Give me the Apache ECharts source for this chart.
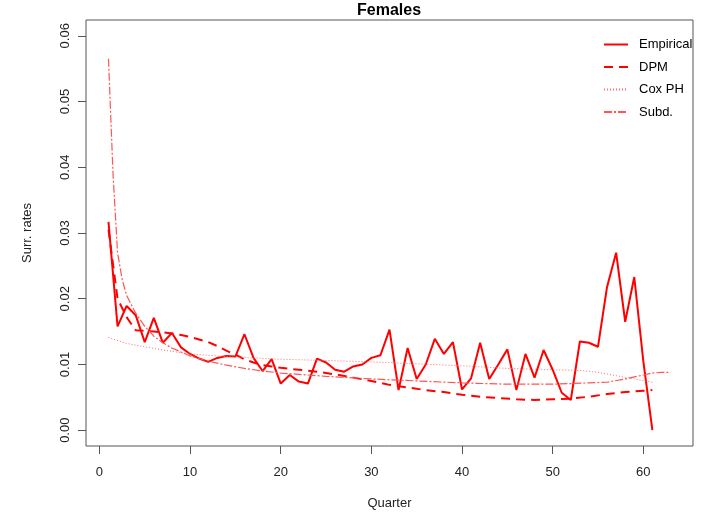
<!DOCTYPE html>
<html>
<head>
<meta charset="utf-8">
<script src="https://cdn.jsdelivr.net/npm/echarts@6/dist/echarts.min.js"></script>
<style>
  html, body { margin: 0; padding: 0; background: #fff; }
  #main { width: 703px; height: 514px; }
</style>
</head>
<body>
<div id="main"></div>
<script>
// quarters 1..61 for the empirical rates
const empQuarter = [];
for (let q = 1; q <= 61; q++) empQuarter.push(q);
const empirical = [
  0.0317, 0.0158, 0.0189, 0.0175, 0.0134, 0.0171, 0.0133, 0.0148, 0.0126, 0.0116,
  0.0109, 0.0104, 0.0110, 0.0113, 0.0112, 0.0146, 0.0110, 0.0090, 0.0108, 0.0071,
  0.0084, 0.0074, 0.0071, 0.0109, 0.0103, 0.0092, 0.0089, 0.0097, 0.0100, 0.0110,
  0.0114, 0.0153, 0.0061, 0.0125, 0.0078, 0.0100, 0.0139, 0.0116, 0.0134, 0.0062,
  0.0079, 0.0133, 0.0078, 0.0100, 0.0123, 0.0061, 0.0116, 0.0080, 0.0122, 0.0092,
  0.0057, 0.0046, 0.0135, 0.0133, 0.0127, 0.0218, 0.0270, 0.0165, 0.0233, 0.0105,
  0.0000
];

const dpmQuarter = [1, 2, 3, 4, 5, 6, 7, 8, 9, 10, 11, 12, 13, 14, 15, 16, 17, 18, 19, 20,
  22, 24, 26, 28, 30, 32, 34, 36, 38, 40, 42, 44, 46, 48, 50, 52, 54, 56, 58, 60, 61];
const dpm = [0.0305, 0.0200, 0.0172, 0.0152, 0.0151, 0.0150, 0.0149, 0.0147, 0.0145, 0.0142,
  0.0138, 0.0134, 0.0128, 0.0121, 0.0115, 0.0108, 0.0103, 0.0099, 0.0097, 0.0095,
  0.0092, 0.0089, 0.0085, 0.0080, 0.0075, 0.0069, 0.0065, 0.0061, 0.0058, 0.0054,
  0.0051, 0.0049, 0.0047, 0.0046, 0.0047, 0.0048, 0.0051, 0.0055, 0.0058, 0.0060, 0.0061];

const coxQuarter = [1, 3, 5, 7, 10, 14, 20, 25, 30, 35, 40, 45, 50, 53, 55, 57, 59, 61];
const coxPH = [0.0141, 0.0132, 0.0127, 0.0122, 0.0116, 0.0112, 0.0108, 0.0106, 0.0104,
  0.0101, 0.0098, 0.0094, 0.0092, 0.0091, 0.0088, 0.0083, 0.0078, 0.0073];

const subdQuarter = [1, 1.5, 2, 2.5, 3, 4, 5, 6, 7, 8, 10, 12, 14, 16, 18, 20, 25, 30, 35,
  40, 45, 50, 54, 56, 58, 60, 61, 62, 63];
const subd = [0.0565, 0.0390, 0.0270, 0.0230, 0.0205, 0.0178, 0.0158, 0.0143, 0.0133,
  0.0125, 0.0113, 0.0105, 0.0099, 0.0094, 0.0090, 0.0087, 0.0082, 0.0078, 0.0075,
  0.0072, 0.0070, 0.0070, 0.0072, 0.0073, 0.0078, 0.0084, 0.0087, 0.0088, 0.0088];

const xTicks = [0, 10, 20, 30, 40, 50, 60];
const yTicks = [0, 0.01, 0.02, 0.03, 0.04, 0.05, 0.06];

function pairs(xs, ys) {
  return xs.map(function (x, i) { return [x, ys[i]]; });
}

var chartDom = document.getElementById('main');
var myChart = echarts.init(chartDom);
var font = 'Liberation Sans, Arial, sans-serif';

var option = {
  animation: false,
  title: {
    text: 'Females',
    left: 357,
    top: 3,
    padding: 0,
    textStyle: { fontFamily: font, fontSize: 16, fontWeight: 'bold', color: '#000' }
  },
  legend: {
    orient: 'vertical',
    left: 603,
    top: 38,
    itemWidth: 24,
    itemHeight: 14,
    itemGap: 9.5,
    padding: 0,
    // hide the marker circle, keep only the line sample
    itemStyle: { color: 'transparent', borderWidth: 0, opacity: 0 },
    textStyle: { fontFamily: font, fontSize: 13, color: '#000', padding: [0, 0, 0, 6] },
    data: ['Empirical', 'DPM', 'Cox PH', 'Subd.']
  },
  grid: {
    left: 86,
    right: 10,
    top: 20,
    bottom: 68,
    show: true,
    borderColor: '#555',
    borderWidth: 1,
    outerBoundsMode: 'none'
  },
  xAxis: {
    type: 'value',
    min: -1.48,
    max: 65.48,
    name: 'Quarter',
    nameLocation: 'middle',
    nameGap: 51,
    nameTextStyle: { fontFamily: font, fontSize: 13, color: '#222' },
    splitLine: { show: false },
    axisLine: { show: false, onZero: false },
    axisTick: { show: true, length: 8, customValues: xTicks, lineStyle: { color: '#555' } },
    axisLabel: { customValues: xTicks, margin: 20, fontFamily: font, fontSize: 13, color: '#222' }
  },
  yAxis: {
    type: 'value',
    min: -0.0024,
    max: 0.0624,
    name: 'Surr. rates',
    nameLocation: 'middle',
    nameGap: 52,
    nameTextStyle: { fontFamily: font, fontSize: 13, color: '#222' },
    splitLine: { show: false },
    axisLine: { show: false, onZero: false },
    axisTick: { show: true, length: 8, customValues: yTicks, lineStyle: { color: '#555' } },
    axisLabel: {
      customValues: yTicks,
      rotate: 90,
      margin: 14,
      fontFamily: font,
      fontSize: 13,
      color: '#222',
      formatter: function (v) { return v.toFixed(2); }
    }
  },
  series: [
    {
      name: 'Empirical',
      type: 'line',
      symbol: 'none',
      data: pairs(empQuarter, empirical),
      itemStyle: { color: '#ff0000' },
      lineStyle: { color: '#ff0000', width: 2 }
    },
    {
      name: 'DPM',
      type: 'line',
      symbol: 'none',
      data: pairs(dpmQuarter, dpm),
      itemStyle: { color: '#ff0000' },
      lineStyle: { color: '#ff0000', width: 2, type: [9, 6] }
    },
    {
      name: 'Cox PH',
      type: 'line',
      symbol: 'none',
      data: pairs(coxQuarter, coxPH),
      itemStyle: { color: '#ff6a6a' },
      lineStyle: { color: '#ff6a6a', width: 1, type: [1, 2] }
    },
    {
      name: 'Subd.',
      type: 'line',
      symbol: 'none',
      data: pairs(subdQuarter, subd),
      itemStyle: { color: '#ff5555' },
      lineStyle: { color: '#ff5555', width: 1.2, type: [8, 2, 2, 2] }
    }
  ]
};

option && myChart.setOption(option);
</script>
</body>
</html>
